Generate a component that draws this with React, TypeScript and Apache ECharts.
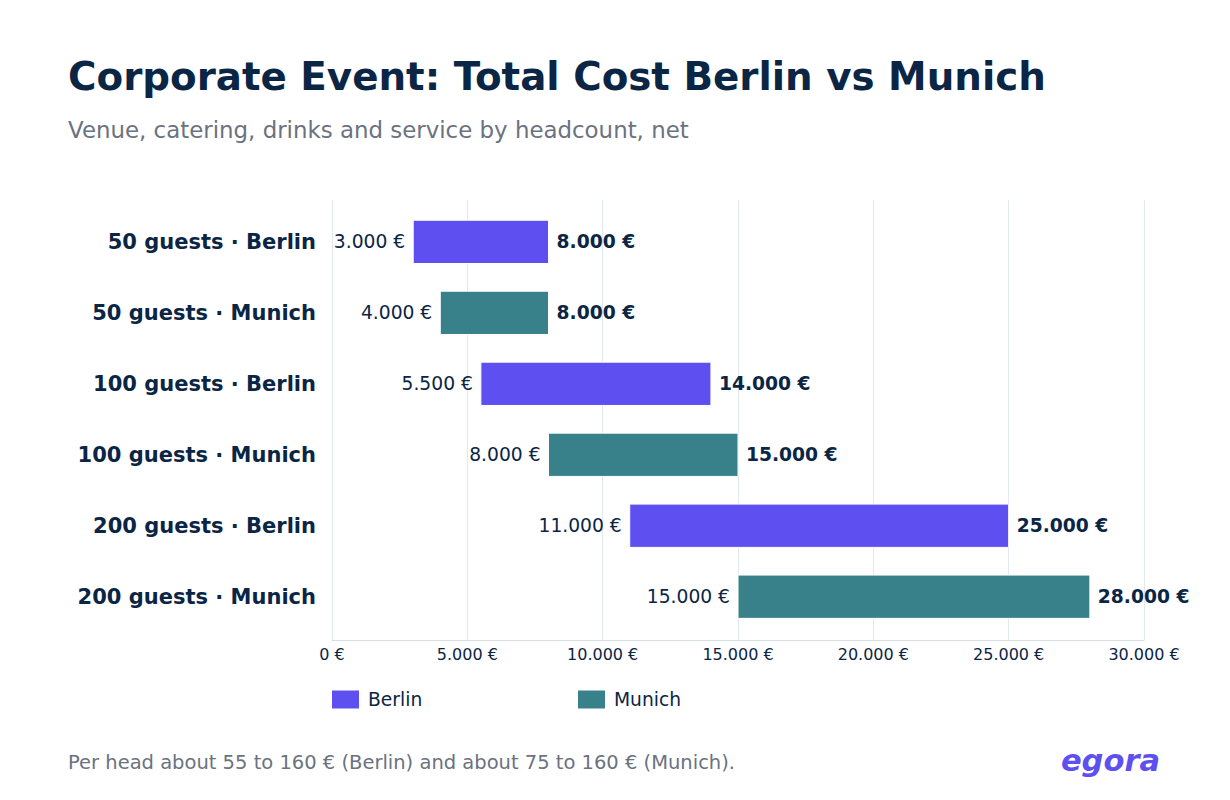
import { useEffect, useRef } from 'react';
import * as echarts from 'echarts';

const categories = [
  '50 guests · Berlin',
  '50 guests · Munich',
  '100 guests · Berlin',
  '100 guests · Munich',
  '200 guests · Berlin',
  '200 guests · Munich',
];
const cities = ['Berlin', 'Munich', 'Berlin', 'Munich', 'Berlin', 'Munich'];
const lowCost = [3000, 4000, 5500, 8000, 11000, 15000];
const highCost = [8000, 8000, 14000, 15000, 25000, 28000];
const xTicks = { min: 0, max: 30000, interval: 5000 };

const cityColors: Record<string, string> = { Berlin: '#5E4FF0', Munich: '#38808A' };
const ink = '#0B2545';
const muted = '#6B7280';
const font = 'DejaVu Sans';

const euro = (v: number) => String(v).replace(/\B(?=(\d{3})+(?!\d))/g, '.') + ' €';

const App = () => {
  const chartDom = useRef<HTMLDivElement | null>(null);

  useEffect(() => {
    document.body.style.margin = '0';
    if (!chartDom.current) return;
    const myChart = echarts.init(chartDom.current, null, { renderer: 'svg' });

    const renderItem = (params: any, api: any) => {
      const idx = api.value(0);
      const start = api.coord([api.value(1), idx]);
      const end = api.coord([api.value(2), idx]);
      const zero = api.coord([0, idx]);
      const h = api.size([0, 1])[1] * 0.61;
      const color = api.visual('color');
      return {
        type: 'group',
        children: [
          {
            type: 'rect',
            shape: { x: start[0], y: start[1] - h / 2, width: end[0] - start[0], height: h },
            style: { fill: color, stroke: '#ffffff', lineWidth: 1 },
          },
          {
            type: 'text',
            x: start[0] - 8,
            y: start[1],
            style: {
              text: euro(api.value(1)),
              align: 'right',
              verticalAlign: 'middle',
              fill: ink,
              font: `18.7px "${font}"`,
            },
          },
          {
            type: 'text',
            x: end[0] + 8,
            y: end[1],
            style: {
              text: euro(api.value(2)),
              align: 'left',
              verticalAlign: 'middle',
              fill: ink,
              font: `bold 18.7px "${font}"`,
            },
          },
          {
            type: 'text',
            x: zero[0] - 16,
            y: zero[1],
            style: {
              text: categories[idx],
              align: 'right',
              verticalAlign: 'middle',
              fill: ink,
              font: `bold 21px "${font}"`,
            },
          },
        ],
      };
    };

    const cityData = (city: string) =>
      categories
        .map((_, i) => [i, lowCost[i], highCost[i]])
        .filter((_, i) => cities[i] === city);

    const legendBase = {
      top: 690,
      padding: 0,
      itemWidth: 27,
      itemHeight: 18,
      icon: 'rect',
      selectedMode: false,
      textStyle: { fontSize: 18.7, color: ink, fontFamily: font, padding: [0, 0, 0, 4] },
    };

    const option = {
      animation: false,
      textStyle: { fontFamily: font },
      grid: { left: 332, right: 86, top: 200, height: 440 },
      legend: [
        { ...legendBase, left: 332, data: ['Berlin'] },
        { ...legendBase, left: 578, data: ['Munich'] },
      ],
      xAxis: {
        type: 'value',
        min: xTicks.min,
        max: xTicks.max,
        interval: xTicks.interval,
        axisLine: { show: true, onZero: false, lineStyle: { color: '#D7DEE8' } },
        axisTick: { show: false },
        splitLine: { lineStyle: { color: '#E3E8EF' } },
        axisLabel: { formatter: euro, fontSize: 16, color: ink, margin: 6 },
      },
      yAxis: {
        type: 'value',
        inverse: true,
        min: -0.59,
        max: 5.61,
        show: false,
        splitLine: { show: false },
      },
      graphic: [
        {
          type: 'text',
          left: 68,
          top: 57,
          style: {
            text: 'Corporate Event: Total Cost Berlin vs Munich',
            fill: ink,
            font: `bold 38.8px "${font}"`,
          },
        },
        {
          type: 'text',
          left: 68,
          top: 118,
          style: {
            text: 'Venue, catering, drinks and service by headcount, net',
            fill: muted,
            font: `22.9px "${font}"`,
          },
        },
        {
          type: 'text',
          left: 68,
          top: 752,
          style: {
            text: 'Per head about 55 to 160 € (Berlin) and about 75 to 160 € (Munich).',
            fill: muted,
            font: `19.5px "${font}"`,
          },
        },
        {
          type: 'text',
          right: 70,
          top: 745,
          style: {
            text: 'egora',
            fill: cityColors.Berlin,
            font: `italic bold 30.5px "${font}"`,
          },
        },
      ],
      series: ['Berlin', 'Munich'].map((city) => ({
        name: city,
        type: 'custom',
        renderItem,
        clip: false,
        itemStyle: { color: cityColors[city] },
        encode: { x: [1, 2], y: 0 },
        data: cityData(city),
      })),
    };

    myChart.setOption(option);
    return () => {
      myChart.dispose();
    };
  }, []);

  return <div ref={chartDom} style={{ width: 1230, height: 800 }} />;
};

export default App;
